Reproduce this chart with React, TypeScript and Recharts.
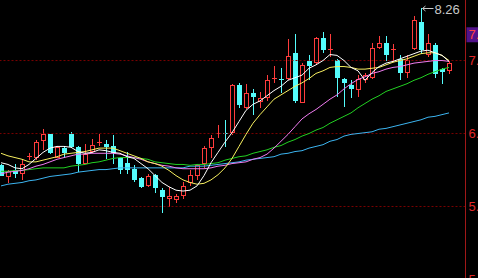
import { ComposedChart, Bar, Line, XAxis, YAxis, ReferenceLine } from 'recharts';

const OPEN = [6.43, 6.29, 6.38, 6.33, 6.52, 6.51, 6.71, 6.79, 6.52, 6.63, 6.79, 6.64, 6.45, 6.58, 6.68, 6.68, 6.65, 6.51, 6.46, 6.39, 6.28, 6.19, 6.32, 6.14, 6.04, 6.03, 6.07, 6.22, 6.30, 6.44, 6.63, 6.79, 6.81, 6.81, 7.36, 7.10, 7.27, 7.17, 7.21, 7.43, 7.44, 7.43, 7.74, 7.16, 7.64, 7.62, 7.91, 7.77, 7.66, 7.43, 7.36, 7.31, 7.42, 7.45, 7.80, 7.85, 7.76, 7.67, 7.50, 7.79, 8.10, 7.71, 7.83, 7.55, 7.53];
const HIGH = [6.45, 6.38, 6.45, 6.50, 6.57, 6.73, 6.85, 6.80, 6.65, 6.65, 6.82, 6.65, 6.68, 6.74, 6.79, 6.73, 6.78, 6.53, 6.58, 6.43, 6.29, 6.33, 6.33, 6.16, 6.18, 6.10, 6.23, 6.38, 6.45, 6.66, 6.78, 6.90, 6.96, 7.38, 7.39, 7.38, 7.32, 7.28, 7.48, 7.59, 7.56, 7.90, 7.96, 7.62, 7.71, 7.92, 7.98, 7.96, 7.67, 7.45, 7.42, 7.48, 7.51, 7.85, 7.94, 7.93, 7.84, 7.71, 7.71, 8.17, 8.26, 7.96, 7.85, 7.56, 7.64];
const LOW = [6.30, 6.22, 6.28, 6.26, 6.49, 6.49, 6.61, 6.56, 6.51, 6.51, 6.63, 6.35, 6.44, 6.57, 6.66, 6.50, 6.45, 6.33, 6.33, 6.24, 6.17, 6.18, 6.11, 5.87, 5.95, 5.99, 6.04, 6.19, 6.26, 6.40, 6.52, 6.75, 6.64, 6.78, 7.10, 7.09, 7.01, 7.10, 7.18, 7.39, 7.27, 7.42, 7.15, 7.15, 7.42, 7.60, 7.74, 7.69, 7.23, 7.11, 7.21, 7.22, 7.39, 7.44, 7.79, 7.64, 7.63, 7.42, 7.45, 7.77, 7.73, 7.69, 7.45, 7.38, 7.49];
const CLOSE = [6.31, 6.36, 6.33, 6.45, 6.54, 6.70, 6.80, 6.57, 6.64, 6.57, 6.64, 6.44, 6.56, 6.67, 6.70, 6.64, 6.57, 6.37, 6.37, 6.26, 6.18, 6.31, 6.16, 6.06, 6.07, 6.07, 6.19, 6.32, 6.43, 6.63, 6.75, 6.81, 6.79, 7.36, 7.13, 7.27, 7.22, 7.21, 7.42, 7.45, 7.42, 7.70, 7.18, 7.60, 7.59, 7.91, 7.77, 7.79, 7.45, 7.39, 7.32, 7.43, 7.48, 7.80, 7.85, 7.71, 7.78, 7.51, 7.66, 8.12, 7.77, 7.85, 7.49, 7.52, 7.62];

// moving averages
const MA5 = [6.46, 6.44, 6.40, 6.39, 6.44, 6.51, 6.58, 6.63, 6.65, 6.65, 6.64, 6.59, 6.57, 6.58, 6.61, 6.60, 6.58, 6.57, 6.53, 6.51, 6.45, 6.39, 6.31, 6.23, 6.18, 6.14, 6.13, 6.14, 6.19, 6.31, 6.46, 6.58, 6.70, 6.81, 6.94, 7.07, 7.14, 7.18, 7.24, 7.30, 7.35, 7.42, 7.45, 7.48, 7.56, 7.60, 7.65, 7.72, 7.71, 7.65, 7.57, 7.53, 7.42, 7.51, 7.58, 7.62, 7.64, 7.67, 7.70, 7.73, 7.76, 7.77, 7.74, 7.71, 7.64];
const MA10 = [6.57, 6.54, 6.52, 6.50, 6.47, 6.47, 6.49, 6.51, 6.53, 6.56, 6.57, 6.58, 6.59, 6.61, 6.63, 6.63, 6.63, 6.60, 6.57, 6.54, 6.51, 6.47, 6.45, 6.42, 6.37, 6.31, 6.26, 6.23, 6.21, 6.22, 6.26, 6.32, 6.40, 6.51, 6.65, 6.79, 6.92, 7.02, 7.11, 7.20, 7.25, 7.30, 7.35, 7.39, 7.44, 7.50, 7.53, 7.57, 7.58, 7.58, 7.57, 7.55, 7.55, 7.56, 7.57, 7.60, 7.63, 7.65, 7.67, 7.70, 7.73, 7.74, 7.74, 7.71, 7.65];
const MA20 = [6.33, 6.35, 6.36, 6.37, 6.39, 6.42, 6.44, 6.47, 6.50, 6.52, 6.54, 6.56, 6.56, 6.57, 6.57, 6.57, 6.57, 6.56, 6.54, 6.52, 6.50, 6.47, 6.45, 6.43, 6.42, 6.40, 6.39, 6.39, 6.39, 6.39, 6.40, 6.42, 6.43, 6.45, 6.46, 6.47, 6.50, 6.52, 6.56, 6.63, 6.71, 6.79, 6.88, 6.97, 7.03, 7.08, 7.14, 7.20, 7.25, 7.32, 7.38, 7.43, 7.46, 7.50, 7.52, 7.55, 7.57, 7.58, 7.60, 7.62, 7.63, 7.64, 7.65, 7.65, 7.64];
const MA30 = [6.36, 6.36, 6.37, 6.37, 6.38, 6.39, 6.40, 6.40, 6.40, 6.40, 6.42, 6.43, 6.44, 6.46, 6.47, 6.49, 6.51, 6.52, 6.52, 6.52, 6.51, 6.50, 6.47, 6.46, 6.45, 6.44, 6.44, 6.43, 6.44, 6.44, 6.45, 6.46, 6.49, 6.51, 6.53, 6.54, 6.57, 6.59, 6.61, 6.64, 6.66, 6.70, 6.73, 6.77, 6.80, 6.84, 6.87, 6.92, 6.96, 7.00, 7.04, 7.10, 7.15, 7.20, 7.24, 7.29, 7.32, 7.35, 7.38, 7.42, 7.45, 7.49, 7.52, 7.55, 7.57];
const MA60 = [6.19, 6.21, 6.22, 6.23, 6.25, 6.26, 6.28, 6.30, 6.31, 6.32, 6.33, 6.35, 6.36, 6.37, 6.38, 6.38, 6.39, 6.40, 6.40, 6.40, 6.40, 6.40, 6.40, 6.40, 6.40, 6.40, 6.40, 6.42, 6.42, 6.42, 6.43, 6.44, 6.45, 6.46, 6.47, 6.49, 6.50, 6.51, 6.52, 6.53, 6.56, 6.57, 6.59, 6.60, 6.63, 6.65, 6.67, 6.71, 6.73, 6.77, 6.79, 6.80, 6.81, 6.82, 6.85, 6.86, 6.88, 6.90, 6.92, 6.94, 6.96, 6.99, 7.00, 7.02, 7.04];

const GRID_TICKS = [7.65, 6.80, 5.95, 5.10];
const TAG_PRICE = 7.95;

const UP = '#ff3c3c';
const DOWN = '#54fcfc';
const FONT = 'Liberation Sans, Arial, sans-serif';
const MAX_HIGH = Math.max(...HIGH);

const data = OPEN.map((o, i) => ({
  i,
  o,
  h: HIGH[i],
  l: LOW[i],
  c: CLOSE[i],
  range: [LOW[i], HIGH[i]],
  ma5: MA5[i],
  ma10: MA10[i],
  ma20: MA20[i],
  ma30: MA30[i],
  ma60: MA60[i],
}));

function Candle(props: any) {
  const { x, y, width, height, payload } = props;
  if (x == null || y == null || !payload) return null;
  const { o, h, l, c } = payload;
  const top = Math.min(y, y + height);
  const span = Math.abs(height);
  const ppu = h > l ? span / (h - l) : 0;
  const py = (v: number) => top + (h - v) * ppu;
  const cx = Math.floor(x + width / 2) + 0.5;
  const up = c >= o;
  const color = up ? UP : DOWN;
  const bTop = Math.round(py(Math.max(o, c)));
  const bBot = Math.max(Math.round(py(Math.min(o, c))), bTop + 1);
  const hy = Math.round(py(h));
  const ly = Math.round(py(l));
  let body;
  if (bBot - bTop <= 2) {
    body = <line x1={cx - 2.5} x2={cx + 2.5} y1={bTop + 0.5} y2={bTop + 0.5} stroke={color} />;
  } else if (up) {
    body = <rect x={cx - 2} y={bTop + 0.5} width={4} height={bBot - bTop - 1} fill="#000" stroke={color} />;
  } else {
    body = <rect x={cx - 2.5} y={bTop} width={5} height={bBot - bTop} fill={color} />;
  }
  return (
    <g>
      <line x1={cx} x2={cx} y1={hy} y2={ly} stroke={color} />
      {body}
      {h === MAX_HIGH && (
        <g>
          <line x1={cx + 1} x2={cx + 12} y1={hy + 0.5} y2={hy + 0.5} stroke="#c8c8c8" />
          <polyline points={`${cx + 4},${hy - 2} ${cx + 1},${hy + 0.5} ${cx + 4},${hy + 3}`} fill="none" stroke="#c8c8c8" />
          <text x={cx + 13} y={hy + 1} dominantBaseline="central" fill="#c8c8c8" fontSize={13} fontFamily={FONT}>
            {h.toFixed(2)}
          </text>
        </g>
      )}
    </g>
  );
}

function PriceTick(props: any) {
  const { x, y, payload } = props;
  const v = payload.value;
  if (v === TAG_PRICE) {
    return (
      <g>
        <rect x={x + 1} y={y - 7.5} width={14} height={15} fill="#52128a" />
        <text x={x + 3} y={y} dominantBaseline="central" fill="#ff4040" fontSize={13} fontFamily={FONT}>
          {v.toFixed(2)}
        </text>
      </g>
    );
  }
  return (
    <text x={x + 3} y={y} dominantBaseline="central" fill="#e02828" fontSize={13} fontFamily={FONT}>
      {v.toFixed(2)}
    </text>
  );
}

export default function App() {
  return (
    <div style={{ width: 478, height: 278, overflow: 'hidden', background: '#000' }}>
      <style>{'body{margin:0;background:#000}'}</style>
      <ComposedChart
        width={478}
        height={285}
        data={data}
        margin={{ top: 0, right: 0, bottom: 0, left: -2.5 }}
        barCategoryGap={0}
      >
        <XAxis dataKey="i" hide padding={{ left: 0, right: 13 }} />
        <YAxis
          orientation="right"
          width={12.5}
          domain={[5.036, 8.355]}
          allowDataOverflow
          ticks={[TAG_PRICE, ...GRID_TICKS]}
          interval={0}
          tickLine={false}
          tickSize={0}
          tickMargin={0}
          axisLine={{ stroke: '#a01818' }}
          tick={(p: any) => <PriceTick {...p} />}
        />
        {GRID_TICKS.map((t) => (
          <ReferenceLine key={t} y={t} stroke="#7a0000" strokeDasharray="2 2" />
        ))}
        <Bar dataKey="range" shape={(p: any) => <Candle {...p} />} activeBar={false} isAnimationActive={false} />
        <Line dataKey="ma60" type="linear" stroke="#3cb4f0" strokeWidth={1} dot={false} activeDot={false} isAnimationActive={false} />
        <Line dataKey="ma30" type="linear" stroke="#22d022" strokeWidth={1} dot={false} activeDot={false} isAnimationActive={false} />
        <Line dataKey="ma20" type="linear" stroke="#f07cf0" strokeWidth={1} dot={false} activeDot={false} isAnimationActive={false} />
        <Line dataKey="ma10" type="linear" stroke="#f8f060" strokeWidth={1} dot={false} activeDot={false} isAnimationActive={false} />
        <Line dataKey="ma5" type="linear" stroke="#ffffff" strokeWidth={1} dot={false} activeDot={false} isAnimationActive={false} />
      </ComposedChart>
    </div>
  );
}
